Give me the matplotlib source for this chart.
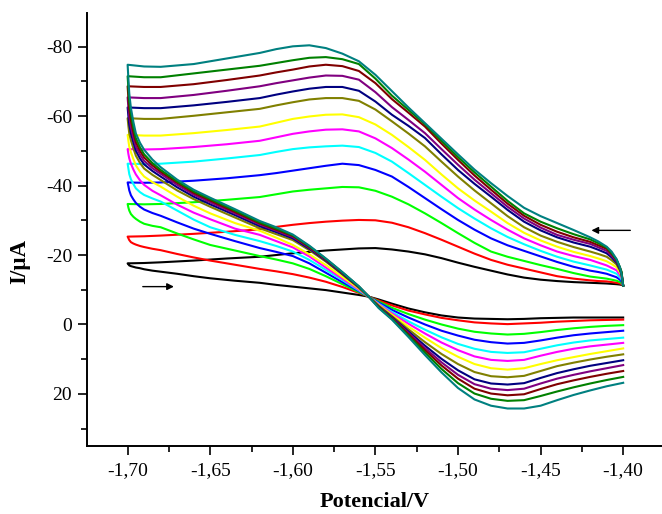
import matplotlib
matplotlib.use('Agg')
import matplotlib.pyplot as plt
from matplotlib.ticker import MultipleLocator, FixedLocator

plt.rcParams['font.family'] = ['Liberation Serif', 'DejaVu Serif']

# potential (V): forward sweep (upper branch, read from -1.70 to -1.40)
x_up = [-1.70, -1.69, -1.68, -1.66, -1.64, -1.62, -1.61, -1.60, -1.59, -1.58,
        -1.57, -1.56, -1.55, -1.54, -1.53, -1.52, -1.51, -1.50, -1.49, -1.48,
        -1.47, -1.46, -1.45, -1.44, -1.43, -1.42, -1.415, -1.41, -1.407, -1.404,
        -1.402, -1.401, -1.40]
# potential (V): return sweep (lower branch)
x_lo = [-1.6995, -1.699, -1.698, -1.6965, -1.695, -1.6925, -1.69, -1.685, -1.68,
        -1.67, -1.66, -1.65, -1.635, -1.62, -1.61, -1.60, -1.59, -1.58, -1.57,
        -1.56, -1.554, -1.548, -1.54, -1.53, -1.52, -1.51, -1.50, -1.49, -1.48,
        -1.47, -1.46, -1.45, -1.44, -1.43, -1.42, -1.41, -1.40]

# current (uA), upper branch
up_black = [-17.6, -17.7, -17.9, -18.4, -19.0, -19.5, -20.0, -20.5, -20.9, -21.3,
            -21.6, -21.9, -22.0, -21.6, -21.0, -20.2, -19.1, -17.8, -16.6, -15.5,
            -14.4, -13.5, -12.9, -12.5, -12.2, -12.0, -11.9, -11.8, -11.7, -11.6,
            -11.5, -11.4, -11.2]
up_red = [-25.3, -25.4, -25.6, -26.1, -26.7, -27.4, -28.1, -28.7, -29.2, -29.6,
          -29.9, -30.1, -30.0, -29.3, -28.0, -26.3, -24.4, -22.4, -20.4, -18.6,
          -17.2, -16.1, -15.0, -13.9, -13.2, -12.7, -12.5, -12.4, -12.2, -12.0,
          -11.8, -11.6, -11.2]
up_green = [-34.7, -34.6, -34.7, -35.2, -35.9, -36.7, -37.5, -38.3, -38.8, -39.2,
            -39.6, -39.5, -38.5, -36.8, -34.6, -32.0, -29.2, -26.3, -23.5, -21.0,
            -19.5, -18.3, -17.1, -16.0, -14.8, -13.8, -13.5, -13.2, -12.9, -12.6,
            -12.2, -11.9, -11.2]
up_blue = [-40.9, -40.8, -40.9, -41.4, -42.1, -43.0, -43.6, -44.3, -45.0, -45.7,
           -46.3, -45.9, -44.5, -42.6, -39.6, -36.4, -33.2, -30.1, -27.3, -24.8,
           -22.8, -21.2, -19.6, -18.0, -16.6, -15.5, -15.1, -14.6, -14.1, -13.6,
           -12.9, -12.4, -11.2]
up_cyan = [-46.3, -46.2, -46.3, -46.9, -47.8, -48.8, -49.7, -50.5, -51.0, -51.3,
           -51.5, -51.1, -49.4, -46.9, -43.6, -40.2, -36.8, -33.5, -30.5, -27.7,
           -25.2, -23.1, -21.2, -19.5, -18.1, -17.0, -16.4, -15.8, -15.2, -14.6,
           -13.6, -13.0, -11.2]
up_magenta = [-50.5, -50.4, -50.5, -51.1, -51.9, -52.9, -53.9, -54.9, -55.6, -56.1,
              -56.2, -55.6, -53.6, -50.8, -47.5, -44.0, -40.2, -36.4, -33.1, -30.1,
              -27.3, -24.8, -22.8, -21.0, -19.7, -18.6, -17.8, -17.0, -16.3, -15.6,
              -14.3, -13.5, -11.2]
up_yellow = [-54.6, -54.4, -54.4, -55.1, -56.0, -57.0, -58.1, -59.2, -59.9, -60.4,
             -60.5, -59.7, -57.6, -54.6, -51.1, -47.4, -43.2, -39.2, -35.7, -32.5,
             -29.2, -26.4, -24.2, -22.4, -20.9, -19.7, -19.0, -18.2, -17.4, -16.5,
             -15.0, -14.0, -11.2]
up_olive = [-59.4, -59.2, -59.2, -60.1, -61.1, -62.1, -63.1, -64.0, -64.8, -65.2,
            -65.2, -64.4, -61.9, -58.5, -55.0, -51.3, -46.9, -42.6, -38.6, -34.9,
            -31.2, -28.0, -25.6, -23.8, -22.3, -21.0, -20.3, -19.5, -18.5, -17.3,
            -15.6, -14.4, -11.2]
up_navy = [-62.5, -62.3, -62.3, -63.1, -64.1, -65.2, -66.2, -67.1, -67.9, -68.4,
           -68.4, -67.3, -64.2, -60.4, -57.2, -53.7, -49.0, -44.5, -40.5, -36.8,
           -33.0, -29.6, -27.1, -25.1, -23.6, -22.4, -21.5, -20.5, -19.3, -17.8,
           -15.9, -14.6, -11.2]
up_purple = [-65.4, -65.2, -65.2, -66.1, -67.3, -68.6, -69.5, -70.3, -71.1, -71.7,
             -71.6, -70.5, -66.9, -62.6, -58.9, -55.1, -50.5, -46.0, -41.7, -37.8,
             -33.9, -30.5, -27.9, -25.8, -24.4, -23.2, -22.2, -21.2, -19.8, -18.2,
             -16.2, -14.8, -11.2]
up_maroon = [-68.6, -68.4, -68.4, -69.2, -70.4, -71.7, -72.6, -73.4, -74.3, -74.8,
             -74.4, -73.0, -69.5, -64.9, -61.0, -57.0, -52.1, -47.4, -42.9, -38.8,
             -34.8, -31.3, -28.7, -26.7, -25.1, -23.8, -22.8, -21.8, -20.3, -18.5,
             -16.4, -15.0, -11.2]
up_dkgreen = [-71.5, -71.2, -71.2, -72.3, -73.4, -74.5, -75.3, -76.1, -76.8, -77.0,
              -76.4, -75.0, -70.8, -65.9, -61.8, -57.7, -52.9, -48.2, -43.8, -39.7,
              -35.6, -32.0, -29.6, -27.7, -26.0, -24.5, -23.4, -22.2, -20.6, -18.7,
              -16.5, -15.2, -11.2]
up_teal = [-74.8, -74.3, -74.2, -75.0, -76.6, -78.2, -79.3, -80.1, -80.4, -79.6,
           -78.0, -75.8, -71.9, -67.2, -62.5, -58.0, -53.5, -49.0, -44.6, -40.7,
           -37.0, -33.6, -31.2, -29.2, -27.2, -25.1, -23.9, -22.4, -21.0, -18.8,
           -16.5, -14.5, -11.2]

# current (uA), lower branch
lo_black = [-17.3, -17.0, -16.8, -16.6, -16.4, -16.2, -15.9, -15.5, -15.2,
            -14.6, -13.9, -13.3, -12.6, -12.0, -11.4, -10.9, -10.4, -9.9, -9.2,
            -8.5, -8.0, -7.2, -6.0, -4.6, -3.5, -2.6, -2.0, -1.7, -1.6,
            -1.5, -1.6, -1.8, -1.9, -2.0, -2.0, -2.0, -2.0]
lo_red = [-24.8, -24.3, -23.7, -23.3, -23.0, -22.6, -22.3, -21.8, -21.4,
          -20.3, -19.3, -18.4, -17.2, -16.0, -15.3, -14.5, -13.5, -12.3, -10.8,
          -9.1, -8.0, -6.9, -5.5, -4.0, -2.9, -1.9, -1.2, -0.6, -0.3,
          -0.1, -0.3, -0.5, -0.8, -1.0, -1.2, -1.3, -1.4]
lo_green = [-33.6, -32.8, -31.8, -31.0, -30.4, -29.6, -29.0, -28.4, -28.0,
            -26.2, -24.5, -22.9, -21.3, -19.7, -18.7, -17.6, -16.0, -13.9, -11.6,
            -9.3, -8.0, -6.6, -4.8, -3.0, -1.4, 0.0, 1.2, 2.1, 2.6,
            2.9, 2.7, 2.2, 1.6, 1.1, 0.7, 0.4, 0.2]
lo_blue = [-39.8, -38.6, -37.2, -36.0, -35.0, -33.9, -33.1, -32.1, -31.3,
           -29.4, -27.6, -26.1, -24.0, -22.0, -20.9, -19.7, -17.6, -14.9, -12.2,
           -9.6, -8.0, -6.3, -4.2, -2.0, 0.0, 1.8, 3.2, 4.4, 5.1,
           5.5, 5.3, 4.6, 3.8, 3.1, 2.6, 2.2, 1.8]
lo_cyan = [-44.8, -43.3, -41.8, -40.4, -39.2, -38.1, -37.3, -36.3, -35.4,
           -32.8, -30.2, -28.0, -25.8, -24.0, -22.6, -21.0, -18.6, -15.7, -12.8,
           -9.8, -8.0, -6.0, -3.6, -0.9, 1.5, 3.7, 5.6, 7.0, 7.9,
           8.2, 8.0, 7.0, 6.0, 5.2, 4.6, 4.2, 3.8]
lo_magenta = [-49.0, -47.8, -46.3, -44.6, -43.2, -41.5, -40.2, -38.5, -37.2,
              -34.5, -32.2, -30.3, -27.6, -25.8, -24.0, -22.2, -19.6, -16.4, -13.2,
              -10.0, -8.0, -5.8, -3.2, -0.2, 2.6, 5.2, 7.4, 9.2, 10.2,
              10.5, 10.2, 9.0, 7.9, 7.0, 6.3, 5.8, 5.3]
lo_yellow = [-52.8, -51.2, -49.6, -47.6, -45.8, -44.0, -42.6, -41.0, -39.7,
             -36.8, -34.2, -32.0, -29.2, -27.0, -25.0, -22.9, -20.2, -17.1, -13.7,
             -10.3, -8.0, -5.6, -2.8, 0.6, 3.8, 6.8, 9.3, 11.4, 12.6,
             13.0, 12.6, 11.4, 10.3, 9.4, 8.5, 7.7, 6.9]
lo_olive = [-57.0, -55.0, -53.0, -50.7, -48.6, -46.5, -44.9, -43.1, -41.6,
            -38.6, -36.1, -33.9, -30.8, -27.7, -26.0, -24.3, -21.4, -18.1, -14.4,
            -10.6, -8.0, -5.4, -2.4, 1.4, 5.1, 8.5, 11.4, 13.7, 14.9,
            15.2, 14.8, 13.4, 12.0, 11.0, 10.1, 9.3, 8.6]
lo_navy = [-59.8, -57.5, -55.0, -52.4, -50.0, -47.8, -46.1, -44.2, -42.6,
           -39.5, -36.8, -34.6, -31.5, -28.3, -26.6, -24.8, -21.8, -18.4, -14.6,
           -10.7, -8.0, -5.2, -2.1, 2.0, 6.1, 9.9, 13.2, 15.8, 17.0,
           17.3, 16.9, 15.4, 14.0, 12.9, 11.9, 11.1, 10.3]
lo_purple = [-62.3, -59.8, -56.8, -53.8, -51.3, -48.9, -47.1, -45.0, -43.4,
             -40.2, -37.4, -35.2, -32.0, -28.8, -27.0, -25.2, -22.1, -18.6, -14.8,
             -10.8, -8.0, -5.1, -1.9, 2.4, 6.8, 10.9, 14.5, 17.2, 18.5,
             18.9, 18.5, 17.0, 15.6, 14.5, 13.5, 12.6, 11.7]
lo_maroon = [-65.0, -62.0, -58.7, -55.3, -52.5, -50.0, -48.1, -45.8, -44.0,
             -40.8, -37.9, -35.7, -32.4, -29.1, -27.3, -25.5, -22.3, -18.8, -14.9,
             -10.9, -8.0, -5.0, -1.7, 2.8, 7.4, 11.8, 15.6, 18.5, 19.9,
             20.4, 20.1, 18.6, 17.2, 16.1, 15.1, 14.2, 13.4]
lo_dkgreen = [-67.8, -64.2, -60.5, -56.7, -53.6, -51.0, -49.0, -46.5, -44.5,
              -41.2, -38.3, -36.1, -32.8, -29.4, -27.6, -25.7, -22.5, -18.9, -15.0,
              -10.9, -8.0, -4.9, -1.6, 3.2, 8.1, 12.8, 16.9, 19.9, 21.4,
              22.0, 21.8, 20.6, 19.3, 18.1, 17.0, 16.0, 15.1]
lo_teal = [-70.5, -66.5, -62.3, -58.3, -55.0, -52.3, -50.3, -47.5, -45.3,
           -41.7, -38.8, -36.5, -33.2, -29.8, -28.0, -25.9, -22.7, -19.0, -15.1,
           -11.0, -8.0, -4.7, -1.4, 3.6, 8.8, 13.8, 18.3, 21.6, 23.4,
           24.2, 24.2, 23.4, 21.8, 20.3, 19.0, 17.8, 16.8]

upper = [up_black, up_red, up_green, up_blue, up_cyan, up_magenta, up_yellow,
         up_olive, up_navy, up_purple, up_maroon, up_dkgreen, up_teal]
lower = [lo_black, lo_red, lo_green, lo_blue, lo_cyan, lo_magenta, lo_yellow,
         lo_olive, lo_navy, lo_purple, lo_maroon, lo_dkgreen, lo_teal]
colors = ['#000000', '#FF0000', '#00FF00', '#0000FF', '#00FFFF', '#FF00FF',
          '#FFFF00', '#808000', '#000080', '#800080', '#800000', '#008000',
          '#008080']

x_ticks = [-1.70, -1.65, -1.60, -1.55, -1.50, -1.45, -1.40]
x_ticklabels = ['-1,70', '-1,65', '-1,60', '-1,55', '-1,50', '-1,45', '-1,40']
y_ticks = [-80, -60, -40, -20, 0, 20]
y_ticklabels = ['-80', '-60', '-40', '-20', '0', '20']

fig = plt.figure(figsize=(6.62, 5.14), dpi=100)
ax = fig.add_axes([0.1314, 0.1323, 0.8686, 0.8424])

# sweep starts at -1.40, goes to -1.70 along the upper branch and comes back
for up, lo, c in zip(upper, lower, colors):
    xs = x_up[::-1] + x_lo
    ys = up[::-1] + lo
    ax.plot(xs, ys, color=c, lw=1.5, solid_joinstyle='round')

# scan direction arrows
ax.annotate('', xy=(-1.6703, -10.9), xytext=(-1.6925, -10.9),
            arrowprops=dict(arrowstyle='-|>', color='k', lw=1, mutation_scale=10))
ax.annotate('', xy=(-1.4209, -27.1), xytext=(-1.394, -27.1),
            arrowprops=dict(arrowstyle='-|>', color='k', lw=1, mutation_scale=10))

ax.set_xlim(-1.7246, -1.3765)
ax.set_ylim(35, -89.7)

ax.xaxis.set_major_locator(FixedLocator(x_ticks))
ax.set_xticklabels(x_ticklabels)
ax.xaxis.set_minor_locator(MultipleLocator(0.025))
ax.yaxis.set_major_locator(FixedLocator(y_ticks))
ax.set_yticklabels(y_ticklabels)
ax.yaxis.set_minor_locator(MultipleLocator(10))

for s in ['top', 'right']:
    ax.spines[s].set_visible(False)
for s in ['left', 'bottom']:
    ax.spines[s].set_linewidth(1.4)

ax.tick_params(which='major', direction='out', length=6.7, width=1.2, labelsize=14)
ax.tick_params(which='minor', direction='out', length=4, width=1.2)
ax.tick_params(axis='x', which='major', pad=5)
ax.tick_params(axis='y', which='major', pad=4)

ax.set_xlabel('Potencial/V', fontsize=16, fontweight='bold')
ax.set_ylabel('I/\u03bcA', fontsize=16.5, fontweight='bold')
ax.xaxis.set_label_coords(0.5, -0.106)
ax.yaxis.set_label_coords(-0.098, 0.425)

fig.savefig('out.png', dpi=100)
